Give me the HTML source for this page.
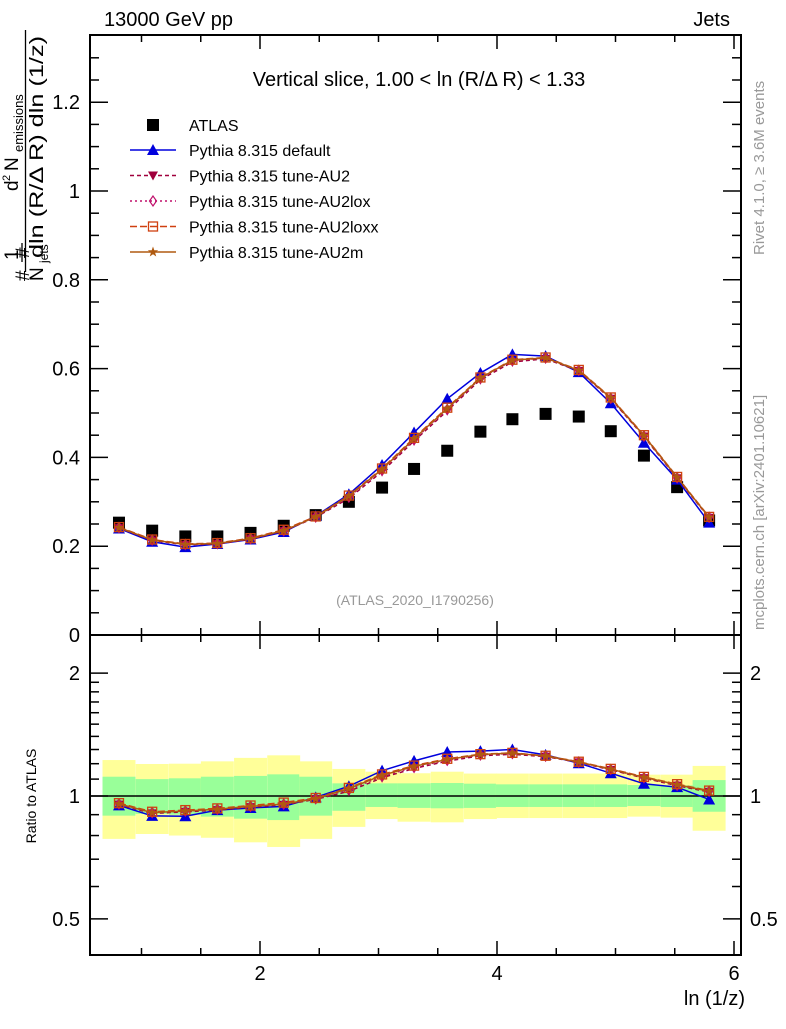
<!DOCTYPE html>
<html><head><meta charset="utf-8"><style>
body{margin:0;background:#fff;}
svg text{font-family:"Liberation Sans",sans-serif;}
</style></head><body>
<svg id="c" width="786" height="1024" xmlns="http://www.w3.org/2000/svg"></svg>
<script>
const xCenters=[0.81,1.09,1.37,1.64,1.92,2.2,2.47,2.75,3.03,3.3,3.58,3.86,4.13,4.41,4.69,4.96,5.24,5.52,5.79];
const atlas=[0.253,0.235,0.222,0.222,0.230,0.246,0.270,0.300,0.332,0.374,0.415,0.458,0.486,0.498,0.492,0.459,0.404,0.333,0.258];
const pyDefault=[0.240,0.210,0.198,0.205,0.215,0.232,0.268,0.317,0.383,0.456,0.532,0.590,0.632,0.628,0.592,0.522,0.433,0.350,0.253];
const pyAU2=[0.241,0.213,0.203,0.205,0.216,0.234,0.265,0.308,0.368,0.437,0.505,0.575,0.615,0.622,0.595,0.532,0.447,0.353,0.264];
const pyAU2lox=[0.242,0.214,0.204,0.206,0.217,0.235,0.266,0.311,0.371,0.440,0.508,0.578,0.618,0.624,0.596,0.533,0.448,0.354,0.265];
const pyAU2loxx=[0.243,0.215,0.205,0.207,0.218,0.237,0.267,0.314,0.375,0.444,0.512,0.580,0.620,0.625,0.597,0.535,0.450,0.356,0.266];
const pyAU2m=[0.242,0.214,0.204,0.206,0.217,0.235,0.266,0.313,0.373,0.442,0.510,0.579,0.619,0.624,0.596,0.534,0.449,0.355,0.265];
const yelHi=[1.225,1.198,1.20,1.216,1.24,1.258,1.216,1.165,1.147,1.137,1.147,1.135,1.135,1.135,1.135,1.135,1.128,1.128,1.185];
const grnHi=[1.115,1.10,1.105,1.115,1.12,1.13,1.115,1.074,1.074,1.074,1.076,1.072,1.068,1.068,1.068,1.068,1.064,1.062,1.094];
const grnLo=[0.895,0.904,0.90,0.89,0.88,0.873,0.895,0.92,0.94,0.935,0.933,0.935,0.94,0.94,0.94,0.94,0.945,0.94,0.915];
const yelLo=[0.785,0.807,0.80,0.79,0.77,0.75,0.785,0.84,0.878,0.865,0.862,0.878,0.883,0.883,0.883,0.883,0.89,0.885,0.822];
const mainTicks=[0,0.2,0.4,0.6,0.8,1,1.2];
const ratioTicks=[0.5,1,2];
const xTicks=[2,4,6];
const binW=0.278;

const L=90,R=741,T=35,MB=635,RB=955;
const sx=v=>23+118.5*v;
const sy=v=>635-444*v;
const sr=v=>796-408*Math.log10(v);
const NS="http://www.w3.org/2000/svg";
const svg=document.getElementById('c');
function el(tag,attrs,parent){const e=document.createElementNS(NS,tag);for(const k in attrs)e.setAttribute(k,attrs[k]);(parent||svg).appendChild(e);return e;}
function txt(s,x,y,attrs){const e=el('text',Object.assign({x:x,y:y,'font-size':16},attrs||{}));e.textContent=s;return e;}

const gBand=el('g',{});


xCenters.forEach((x,i)=>{
  const x0=sx(x-binW/2),w=sx(x+binW/2)-x0;
  const y=el('rect',{x:x0,y:sr(yelHi[i]),width:w,height:sr(yelLo[i])-sr(yelHi[i]),fill:'#ffff99'},gBand);
  
  
  const g=el('rect',{x:x0,y:sr(grnHi[i]),width:w,height:sr(grnLo[i])-sr(grnHi[i]),fill:'#99ff99'},gBand);
  
  
});
el('line',{x1:L,x2:R,y1:sr(1),y2:sr(1),stroke:'#000','stroke-width':1.5});

for(const [t,b,n] of [[T,MB,'main-frame'],[MB,RB,'ratio-frame']]){
  const f=el('rect',{x:L,y:t,width:R-L,height:b-t,fill:'none',stroke:'#000','stroke-width':2});
  
  
}
for(let v=1;v<=6.01;v+=0.5){
  const major=Math.abs(v-Math.round(v/2)*2)<0.01;
  const len=major?14:7;
  for(const yb of [MB,RB]){el('line',{x1:sx(v),x2:sx(v),y1:yb,y2:yb-len,stroke:'#000','stroke-width':1.5});}
  for(const yt of [T,MB]){el('line',{x1:sx(v),x2:sx(v),y1:yt,y2:yt+len,stroke:'#000','stroke-width':1.5});}
}
xTicks.forEach(v=>{const t=txt(String(v),sx(v),980,{'text-anchor':'middle','font-size':20});
  
  });
for(let v=0;v<=1.35;v+=0.05){
  const major=Math.abs(v*5-Math.round(v*5))<0.01;const len=major?18:9;
  el('line',{x1:L,x2:L+len,y1:sy(v),y2:sy(v),stroke:'#000','stroke-width':1.5});
  el('line',{x1:R,x2:R-len,y1:sy(v),y2:sy(v),stroke:'#000','stroke-width':1.5});
}
mainTicks.forEach(v=>{const t=txt(String(v),80,sy(v)+7,{'text-anchor':'end','font-size':20});
  
  });
const rMinor=[0.5,0.6,0.7,0.8,0.9,1,1.1,1.2,1.3,1.4,1.5,1.6,1.7,1.8,1.9,2];
rMinor.forEach(v=>{const major=ratioTicks.includes(v);const len=major?18:9;
  el('line',{x1:L,x2:L+len,y1:sr(v),y2:sr(v),stroke:'#000','stroke-width':1.5});
  el('line',{x1:R,x2:R-len,y1:sr(v),y2:sr(v),stroke:'#000','stroke-width':1.5});});
ratioTicks.forEach(v=>{
  const a=txt(String(v),80,sr(v)+7,{'text-anchor':'end','font-size':20});
  
  
  const b=txt(String(v),750,sr(v)+7,{'font-size':20});
  
  });

function marker(type,x,y,color,p){
  const s=6;
  if(type==='sq')return el('rect',{x:x-s,y:y-s,width:2*s,height:2*s,fill:'#000'},p);
  if(type==='tri')return el('polygon',{points:`${x},${y-6} ${x-6},${y+5} ${x+6},${y+5}`,fill:color},p);
  if(type==='dtri')return el('polygon',{points:`${x},${y+5} ${x-5},${y-4} ${x+5},${y-4}`,fill:color},p);
  if(type==='dia')return el('polygon',{points:`${x},${y-5} ${x-3.5},${y} ${x},${y+5} ${x+3.5},${y}`,fill:'none',stroke:color,'stroke-width':1.2},p);
  if(type==='osq')return el('rect',{x:x-4.5,y:y-4.5,width:9,height:9,fill:'none',stroke:color,'stroke-width':1.3},p);
  if(type==='star'){let pts=[];for(let k=0;k<10;k++){const r=k%2?2.2:5.5,a=-Math.PI/2+k*Math.PI/5;pts.push((x+r*Math.cos(a))+','+(y+r*Math.sin(a)));}
    return el('polygon',{points:pts.join(' '),fill:color},p);}
}
const series=[
 {n:'pythia-default',d:pyDefault,c:'#0000dd',m:'tri',dash:'',lab:'Pythia 8.315 default'},
 {n:'pythia-au2',d:pyAU2,c:'#a0003c',m:'dtri',dash:'4,3',lab:'Pythia 8.315 tune-AU2'},
 {n:'pythia-au2lox',d:pyAU2lox,c:'#c0106c',m:'dia',dash:'2,3',lab:'Pythia 8.315 tune-AU2lox'},
 {n:'pythia-au2loxx',d:pyAU2loxx,c:'#d04010',m:'osq',dash:'7,3',lab:'Pythia 8.315 tune-AU2loxx'},
 {n:'pythia-au2m',d:pyAU2m,c:'#b05a10',m:'star',dash:'',lab:'Pythia 8.315 tune-AU2m'}
];
const ga=el('g',{});


atlas.forEach((v,i)=>{const m=marker('sq',sx(xCenters[i]),sy(v),'#000',ga);
  
  });
series.forEach(s=>{
  const g=el('g',{});
  
  
  const pm=s.d.map((v,i)=>sx(xCenters[i])+','+sy(v)).join(' ');
  const pr=s.d.map((v,i)=>sx(xCenters[i])+','+sr(v/atlas[i])).join(' ');
  const l1=el('polyline',{points:pm,fill:'none',stroke:s.c,'stroke-width':1.5,'stroke-dasharray':s.dash},g);
  
  
  const l2=el('polyline',{points:pr,fill:'none',stroke:s.c,'stroke-width':1.5,'stroke-dasharray':s.dash},g);
  
  
  s.d.forEach((v,i)=>{
    const a=marker(s.m,sx(xCenters[i]),sy(v),s.c,g);
    
    
    const b=marker(s.m,sx(xCenters[i]),sr(v/atlas[i]),s.c,g);
    
    
  });
});
const lg=el('g',{});


marker('sq',153,125,'#000',lg);
const lt=txt('ATLAS',189,131,{},lg);
lg.appendChild(lt);
series.forEach((s,i)=>{
  const y=150+i*25.5;
  el('line',{x1:130,x2:176,y1:y,y2:y,stroke:s.c,'stroke-width':1.5,'stroke-dasharray':s.dash},lg);
  marker(s.m,153,y,s.c,lg);
  const t=txt(s.lab,189,y+6,{});lg.appendChild(t);
  
  
});
</script>
<svg width="786" height="1024" style="position:absolute;left:0;top:0" xmlns="http://www.w3.org/2000/svg">
<text x="104" y="26" font-size="20">13000 GeV pp</text>
<text x="730" y="26" font-size="20" text-anchor="end">Jets</text>
<text x="419" y="86" font-size="20" text-anchor="middle">Vertical slice, 1.00 &lt; ln (R/Δ R) &lt; 1.33</text>
<text x="415" y="605" font-size="14" fill="#999" text-anchor="middle">(ATLAS_2020_I1790256)</text>
<text x="745" y="1005" font-size="20" text-anchor="end">ln (1/z)</text>
<text transform="translate(36,796) rotate(-90)" font-size="14" text-anchor="middle">Ratio to ATLAS</text>
<text transform="translate(764,255) rotate(-90)" font-size="15" fill="#999">Rivet 4.1.0, ≥ 3.6M events</text>
<text transform="translate(764,630) rotate(-90)" font-size="15" fill="#999">mcplots.cern.ch [arXiv:2401.10621]</text>
<g>
<text transform="translate(29,281) rotate(-90)" font-size="19">#</text>
<text transform="translate(29,258) rotate(-90)" font-size="19">#</text>
<text transform="translate(18,260) rotate(-90)" font-size="19">1</text>
<line x1="22" y1="262" x2="22" y2="243" stroke="#000" stroke-width="1.3"/>
<text transform="translate(43,281) rotate(-90)" font-size="19">N</text>
<text transform="translate(48,263) rotate(-90)" font-size="12">jets</text>
<line x1="25.5" y1="272" x2="25.5" y2="30" stroke="#000" stroke-width="1.3"/>
<text transform="translate(18,191) rotate(-90)" font-size="19">d</text>
<text transform="translate(10,181) rotate(-90)" font-size="11">2</text>
<text transform="translate(18,171) rotate(-90)" font-size="19">N</text>
<text transform="translate(23,152) rotate(-90)" font-size="13">emissions</text>
<text transform="translate(43,258) rotate(-90)" font-size="19" textLength="222" lengthAdjust="spacingAndGlyphs">dln (R/Δ R) dln (1/z)</text>
</g>
</svg>
</body></html>
